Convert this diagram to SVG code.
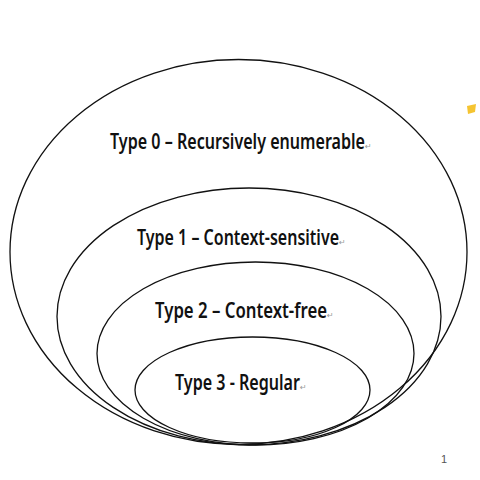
<svg xmlns="http://www.w3.org/2000/svg" width="480" height="480" viewBox="0 0 480 480">
<style>
.e{fill:none;stroke:#111;stroke-width:1.3}
.t{font-family:"Noto Sans","Liberation Sans",sans-serif;font-size:21px;font-weight:600;fill:#111}
.r{font-family:"DejaVu Sans",sans-serif;font-size:8px;font-weight:normal;fill:#999}
</style>
<rect width="480" height="480" fill="#fff"/>
<g id="type0">
<ellipse class="e" cx="238.5" cy="252" rx="228.5" ry="192.5"/>
<text class="t" x="110" y="149"><tspan textLength="255" lengthAdjust="spacingAndGlyphs">Type 0 – Recursively enumerable</tspan><tspan class="r">↵</tspan></text>
</g>
<g id="type1">
<ellipse class="e" cx="249" cy="316.5" rx="192" ry="128.5"/>
<text class="t" x="137" y="245"><tspan textLength="202" lengthAdjust="spacingAndGlyphs">Type 1 – Context-sensitive</tspan><tspan class="r">↵</tspan></text>
</g>
<g id="type2">
<ellipse class="e" cx="255.5" cy="353.5" rx="158.5" ry="91.5"/>
<text class="t" x="155" y="318"><tspan textLength="172" lengthAdjust="spacingAndGlyphs">Type 2 – Context-free</tspan><tspan class="r">↵</tspan></text>
</g>
<g id="type3">
<ellipse class="e" cx="252.5" cy="390" rx="117.5" ry="53"/>
<text class="t" x="175" y="390"><tspan textLength="125" lengthAdjust="spacingAndGlyphs">Type 3 - Regular</tspan><tspan class="r">↵</tspan></text>
</g>
<path d="M467 106 L476 104 L475 112 L468 114 Z" fill="#f5c431"/>
<text x="441" y="463" style="font-family:'Liberation Sans',sans-serif;font-size:11px;fill:#555">1</text>
</svg>
